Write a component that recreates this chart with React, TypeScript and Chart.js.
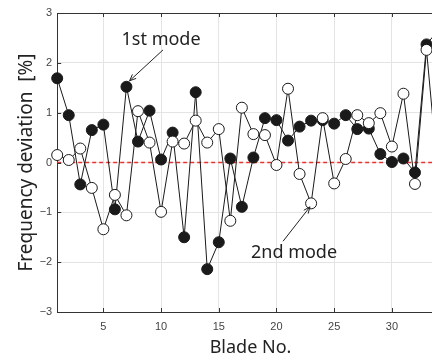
import React, { useEffect, useRef } from "react";
import { Chart, registerables } from "chart.js";

Chart.register(...registerables);

// Blade numbers (x) and frequency deviations [%] for the two modes
const blades = [1, 2, 3, 4, 5, 6, 7, 8, 9, 10, 11, 12, 13, 14, 15, 16, 17, 18, 19, 20, 21, 22, 23, 24, 25, 26, 27, 28, 29, 30, 31, 32, 33, 34];
const mode1 = [1.69, 0.95, -0.44, 0.65, 0.76, -0.94, 1.52, 0.42, 1.04, 0.06, 0.6, -1.5, 1.41, -2.14, -1.6, 0.08, -0.89, 0.1, 0.89, 0.85, 0.44, 0.72, 0.84, 0.85, 0.78, 0.95, 0.67, 0.68, 0.17, 0.01, 0.08, -0.2, 2.37, 2.65];
const mode2 = [0.15, 0.05, 0.28, -0.51, -1.34, -0.65, -1.06, 1.03, 0.4, -0.99, 0.42, 0.38, 0.84, 0.4, 0.67, -1.17, 1.1, 0.57, 0.55, -0.05, 1.48, -0.23, -0.82, 0.89, -0.42, 0.07, 0.95, 0.79, 0.99, 0.32, 1.38, -0.43, 2.26, -0.27];
const xTicks = [5, 10, 15, 20, 25, 30, 35];
const yTicks = [-3, -2, -1, 0, 1, 2, 3];
const xRange = [1, 35];
const yRange = [-3, 3];
const xTitle = "Blade No.";
const yTitle = "Frequency deviation  [%]";
// annotations: label anchor and arrow (data coordinates)
const annotations = [
  { text: "1st mode", tx: 10.0, ty: 2.36, ax0: 10.17, ay0: 2.26, ax1: 7.27, ay1: 1.64 },
  { text: "2nd mode", tx: 21.52, ty: -1.91, ax0: 20.57, ay0: -1.58, ax1: 22.9, ay1: -0.89 },
];

const TXT_FONT = "'Noto Sans', 'Open Sans', sans-serif";
const TICK_FONT = "'Liberation Sans', Arial, sans-serif";

const decorPlugin = {
  id: "decor",
  beforeDatasetsDraw(chart: any) {
    const { ctx, chartArea, scales } = chart;
    const y0 = scales.y.getPixelForValue(0);
    ctx.save();
    ctx.strokeStyle = "#e8332c";
    ctx.lineWidth = 1.5;
    ctx.setLineDash([4, 3]);
    ctx.beginPath();
    ctx.moveTo(chartArea.left, y0);
    ctx.lineTo(chartArea.right, y0);
    ctx.stroke();
    ctx.restore();
  },
  afterDraw(chart: any) {
    const { ctx, chartArea, scales } = chart;
    const xs = scales.x;
    const ys = scales.y;
    ctx.save();
    // top border
    ctx.strokeStyle = "#333";
    ctx.lineWidth = 1;
    ctx.beginPath();
    ctx.moveTo(chartArea.left, Math.round(chartArea.top) + 0.5);
    ctx.lineTo(chartArea.right, Math.round(chartArea.top) + 0.5);
    ctx.stroke();
    // inner tick marks
    ctx.beginPath();
    xTicks.forEach((v) => {
      const px = Math.round(xs.getPixelForValue(v)) + 0.5;
      ctx.moveTo(px, chartArea.top);
      ctx.lineTo(px, chartArea.top + 4);
      ctx.moveTo(px, chartArea.bottom);
      ctx.lineTo(px, chartArea.bottom - 4);
    });
    yTicks.forEach((v) => {
      const py = Math.round(ys.getPixelForValue(v)) + 0.5;
      ctx.moveTo(chartArea.left, py);
      ctx.lineTo(chartArea.left + 4, py);
    });
    ctx.stroke();

    // annotations
    ctx.fillStyle = "#222";
    ctx.font = `18px ${TXT_FONT}`;
    ctx.textAlign = "center";
    ctx.textBaseline = "alphabetic";
    annotations.forEach((a) => {
      ctx.fillText(a.text, xs.getPixelForValue(a.tx), ys.getPixelForValue(a.ty));
      const x0 = xs.getPixelForValue(a.ax0);
      const y0 = ys.getPixelForValue(a.ay0);
      const x1 = xs.getPixelForValue(a.ax1);
      const y1 = ys.getPixelForValue(a.ay1);
      ctx.strokeStyle = "#222";
      ctx.lineWidth = 1;
      ctx.beginPath();
      ctx.moveTo(x0, y0);
      ctx.lineTo(x1, y1);
      const ang = Math.atan2(y1 - y0, x1 - x0);
      const L = 7;
      const w = 0.4;
      ctx.moveTo(x1 - L * Math.cos(ang - w), y1 - L * Math.sin(ang - w));
      ctx.lineTo(x1, y1);
      ctx.lineTo(x1 - L * Math.cos(ang + w), y1 - L * Math.sin(ang + w));
      ctx.stroke();
    });

    // axis titles
    ctx.fillStyle = "#222";
    ctx.font = `18px ${TXT_FONT}`;
    ctx.textAlign = "center";
    ctx.textBaseline = "alphabetic";
    ctx.fillText(xTitle, 250.5, 353);
    ctx.translate(32, (chartArea.top + chartArea.bottom) / 2);
    ctx.rotate(-Math.PI / 2);
    ctx.font = `19px ${TXT_FONT}`;
    ctx.fillText(yTitle, 0, 0);
    ctx.restore();
  },
};

export default function App() {
  const ref = useRef<HTMLCanvasElement | null>(null);
  useEffect(() => {
    document.body.style.margin = "0";
    const ctx = ref.current!.getContext("2d")!;
    const pts = (vals: number[]) => blades.map((b, i) => ({ x: b, y: vals[i] }));
    const chart = new Chart(ctx, {
      type: "line",
      data: {
        datasets: [
          {
            label: "2nd mode",
            data: pts(mode2),
            borderColor: "#1a1a1a",
            borderWidth: 1,
            pointRadius: 5.5,
            pointBorderWidth: 1,
            pointBorderColor: "#1a1a1a",
            pointBackgroundColor: "#ffffff",
            backgroundColor: "#ffffff",
            clip: false as any,
            tension: 0,
          },
          {
            label: "1st mode",
            data: pts(mode1),
            borderColor: "#1a1a1a",
            borderWidth: 1,
            pointRadius: 5.5,
            pointBorderWidth: 1,
            pointBorderColor: "#1a1a1a",
            pointBackgroundColor: "#1a1a1a",
            backgroundColor: "#1a1a1a",
            clip: false as any,
            tension: 0,
          },
        ],
      },
      options: {
        animation: false,
        responsive: false,
        maintainAspectRatio: false,
        layout: { padding: { left: 0, top: 13, right: 20.4, bottom: 0 } },
        plugins: { legend: { display: false }, tooltip: { enabled: false } },
        scales: {
          x: {
            type: "linear",
            min: xRange[0],
            max: xRange[1],
            afterBuildTicks: (s: any) => {
              s.ticks = xTicks.map((v) => ({ value: v }));
            },
            afterFit: (s: any) => {
              s.height = 44;
            },
            grid: { color: "#e4e4e4", drawTicks: false, lineWidth: 1 },
            border: { display: true, color: "#333", width: 1 },
            ticks: {
              padding: 8,
              maxRotation: 0,
              autoSkip: false,
              color: "#444",
              font: { family: TICK_FONT, size: 11 },
            },
          },
          y: {
            type: "linear",
            min: yRange[0],
            max: yRange[1],
            afterBuildTicks: (s: any) => {
              s.ticks = yTicks.map((v) => ({ value: v }));
            },
            afterFit: (s: any) => {
              s.width = 57.2;
            },
            grid: { color: "#e4e4e4", drawTicks: false, lineWidth: 1 },
            border: { display: true, color: "#333", width: 1 },
            ticks: {
              padding: 5,
              color: "#444",
              font: { family: TICK_FONT, size: 11 },
              callback: (v: any) => String(v).replace("-", "\u2212"),
            },
          },
        },
      },
      plugins: [decorPlugin],
    });
    return () => chart.destroy();
  }, []);
  return (
    <div style={{ position: "fixed", left: 0, top: 0, width: 432, height: 356, overflow: "hidden", background: "#fff" }}>
      <canvas ref={ref} width={470} height={356} style={{ width: 470, height: 356, display: "block" }} />
    </div>
  );
}
